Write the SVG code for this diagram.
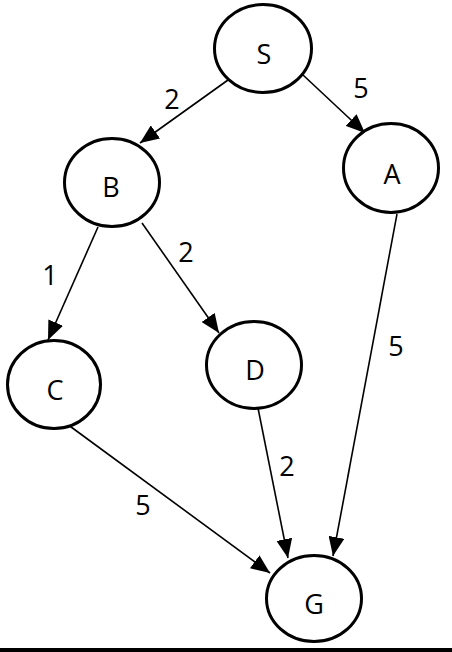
<svg xmlns="http://www.w3.org/2000/svg" width="452" height="652" viewBox="0 0 452 652">
<style>
.node ellipse{fill:#fff;stroke:#000;stroke-width:3}
.node text{font-family:"Open Sans","Liberation Sans",Arial,sans-serif;font-size:27px;text-anchor:middle;fill:#000}
.edges line{stroke:#000;stroke-width:1.6;marker-end:url(#arr)}
.lbl{font-family:"Open Sans","Liberation Sans",Arial,sans-serif;font-size:27px;text-anchor:middle;fill:#000}
</style>
<defs>
<marker id="arr" markerUnits="userSpaceOnUse" markerWidth="20" markerHeight="16" refX="19" refY="8" orient="auto">
<path d="M0,0 L19,8 L0,16 z" fill="#000"/>
</marker>
</defs>
<rect width="452" height="652" fill="#fff"/>
<g id="edges" class="edges">
<line x1="228" y1="80" x2="140" y2="143"/>
<line x1="303" y1="75" x2="365" y2="133"/>
<line x1="98" y1="227" x2="48" y2="340"/>
<line x1="142" y1="223" x2="219" y2="333"/>
<line x1="67" y1="424" x2="270" y2="573"/>
<line x1="258" y1="408" x2="288" y2="558"/>
<line x1="397" y1="214" x2="333" y2="556"/>
</g>
<g id="labels">
<text class="lbl" x="172" y="109">2</text>
<text class="lbl" x="361" y="98">5</text>
<text class="lbl" x="50" y="285">1</text>
<text class="lbl" x="186" y="262">2</text>
<text class="lbl" x="143" y="515">5</text>
<text class="lbl" x="287" y="476">2</text>
<text class="lbl" x="396" y="356">5</text>
</g>
<g id="S" class="node"><ellipse cx="263" cy="48.5" rx="48.5" ry="44"/><text x="264" y="64">S</text></g>
<g id="B" class="node"><ellipse cx="112" cy="182.5" rx="47.5" ry="44"/><text x="111" y="197">B</text></g>
<g id="A" class="node"><ellipse cx="391" cy="168" rx="47.5" ry="44.5"/><text x="392" y="184">A</text></g>
<g id="C" class="node"><ellipse cx="54" cy="384.5" rx="46.5" ry="44"/><text x="55" y="400">C</text></g>
<g id="D" class="node"><ellipse cx="254" cy="365" rx="47.5" ry="43.5"/><text x="255" y="380">D</text></g>
<g id="G" class="node"><ellipse cx="314" cy="598.5" rx="47.5" ry="43"/><text x="314" y="614">G</text></g>
<rect x="0" y="648" width="452" height="4" fill="#000"/>
</svg>
